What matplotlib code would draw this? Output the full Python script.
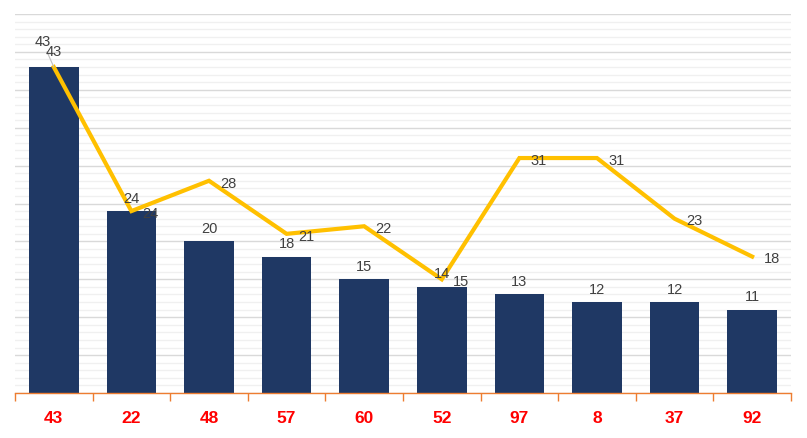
import matplotlib.pyplot as plt
from matplotlib.ticker import MultipleLocator
import numpy as np

categories = ['43', '22', '48', '57', '60', '52', '97', '8', '37', '92']
bar_values = [43, 24, 20, 18, 15, 14, 13, 12, 12, 11]
line_values = [43, 24, 28, 21, 22, 15, 31, 31, 23, 18]

plt.rcParams['font.family'] = ['Liberation Sans', 'DejaVu Sans']

fig = plt.figure(figsize=(8.07, 4.38), dpi=100)
ax = fig.add_axes([0.0186, 0.1027, 0.9615, 0.8653])

x = np.arange(len(categories))
ax.bar(x, bar_values, width=0.64, color='#1F3864', zorder=2)
ax.plot(x, line_values, color='#FFC000', linewidth=3, solid_joinstyle='miter', zorder=3)

ax.set_xlim(-0.5, len(categories) - 0.5)
ax.set_ylim(0, 50)

ax.yaxis.set_major_locator(MultipleLocator(5))
ax.yaxis.set_minor_locator(MultipleLocator(1))
ax.grid(axis='y', which='major', color='#d9d9d9', linewidth=1, zorder=0)
ax.grid(axis='y', which='minor', color='#f0f0f0', linewidth=1, zorder=0)
ax.tick_params(axis='y', which='both', length=0, labelleft=False)

for s in ['top', 'right', 'left']:
    ax.spines[s].set_visible(False)
ax.spines['bottom'].set_color('#ED7D31')
ax.spines['bottom'].set_linewidth(1)
ax.spines['bottom'].set_zorder(4)

ax.set_xticks(x)
ax.set_xticklabels(categories, color='#FF0000', fontweight='bold', fontsize=12.5)
ax.tick_params(axis='x', which='major', length=0, pad=13)
ax.set_xticks(np.arange(len(categories) + 1) - 0.5, minor=True)
ax.tick_params(axis='x', which='minor', length=6, color='#ED7D31', width=1)

label_color = '#404040'
fs = 10.5
for i, (b, l) in enumerate(zip(bar_values, line_values)):
    if i == 0:
        ax.annotate(str(b), xy=(i, b), xytext=(-8, 13), textcoords='offset points',
                    ha='center', va='bottom', fontsize=fs, color=label_color,
                    arrowprops=dict(arrowstyle='-', color='#bfbfbf', lw=0.8,
                                    shrinkA=0, shrinkB=0), zorder=5)
        ax.annotate(str(l), xy=(i, l), xytext=(0, 6), textcoords='offset points',
                    ha='center', va='bottom', fontsize=fs, color=label_color, zorder=5)
        continue
    ax.annotate(str(b), xy=(i, b), xytext=(0, 4), textcoords='offset points',
                ha='center', va='bottom', fontsize=fs, color=label_color, zorder=5)
    ax.annotate(str(l), xy=(i, l), xytext=(14, -2), textcoords='offset points',
                ha='center', va='center', fontsize=fs, color=label_color, zorder=5)

fig.savefig('out.png', dpi=100)
